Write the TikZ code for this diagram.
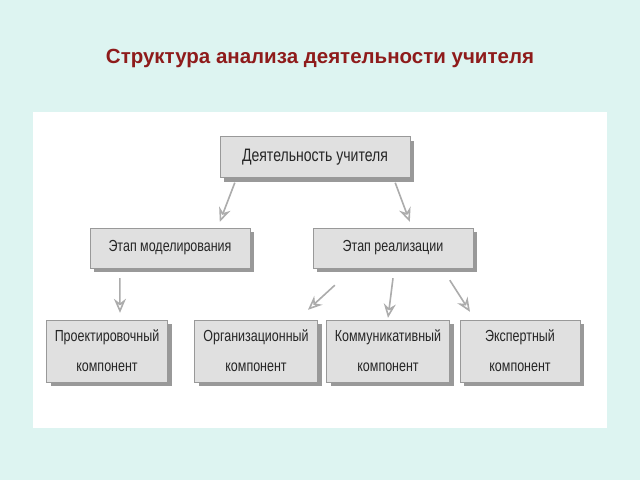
\documentclass[tikz,border=0pt]{standalone}
\usepackage{fontspec}
\setmainfont{Liberation Sans}
\newfontfamily\narrowfont[FakeStretch=0.78]{Liberation Sans}
\usetikzlibrary{shadows,calc,arrows.meta}
\definecolor{bgcyan}{HTML}{DDF4F1}
\definecolor{titlered}{HTML}{8E1B1B}
\definecolor{boxgrey}{HTML}{E0E0E0}
\tikzset{
  blockbox/.style={draw=gray!80, fill=boxgrey, minimum height=40pt, align=center,
    font=\narrowfont\fontsize{16}{30}\selectfont, text=black!85,
    drop shadow={shadow xshift=4pt, shadow yshift=-4pt, fill=gray!80, opacity=1}},
  arr/.style={-{Stealth[open, length=14pt, width=12pt]}, gray!65, line width=1.6pt}
}
\begin{document}
\begin{tikzpicture}[x=1pt, y=-1pt]
\useasboundingbox (0,0) rectangle (640,480);
\fill[bgcyan] (0,0) rectangle (640,480);
\fill[white] (33,112) rectangle (607,428);
\node[font=\bfseries\fontsize{20.5}{22}\selectfont, text=titlered] (title) at (320,58)
  {Структура анализа деятельности учителя};

\node[blockbox, minimum width=190pt, minimum height=41pt, font=\narrowfont\fontsize{18}{20}\selectfont] (top) at (315,157) {Деятельность учителя};
\node[blockbox, minimum width=160pt] (model) at (170,248) {Этап моделирования};
\node[blockbox, minimum width=160pt] (real) at (393,248) {Этап реализации};

\node[blockbox, minimum width=121pt, minimum height=62pt] (proj) at (107,351) {Проектировочный\\компонент};
\node[blockbox, minimum width=123pt, minimum height=62pt] (org) at (256,351) {Организационный\\компонент};
\node[blockbox, minimum width=123pt, minimum height=62pt] (comm) at (388,351) {Коммуникативный\\компонент};
\node[blockbox, minimum width=120pt, minimum height=62pt] (exp) at (520,351) {Экспертный\\компонент};

\draw[arr] ([xshift=15pt,yshift=-5pt]top.south west) -- ([xshift=130pt,yshift=6pt]model.north west);
\draw[arr] ([xshift=-15pt,yshift=-5pt]top.south east) -- ([xshift=97pt,yshift=6pt]real.north west);
\draw[arr] ([xshift=30pt,yshift=-10pt]model.south west) -- ([xshift=13pt,yshift=7pt]proj.north);
\draw[arr] ([xshift=22pt,yshift=-17pt]real.south west) -- ([xshift=52pt,yshift=10pt]org.north);
\draw[arr] ([yshift=-10pt]real.south) -- ([yshift=2pt]comm.north);
\draw[arr] ([xshift=137pt,yshift=-12pt]real.south west) -- ([xshift=-50pt,yshift=8pt]exp.north);
\end{tikzpicture}
\end{document}
